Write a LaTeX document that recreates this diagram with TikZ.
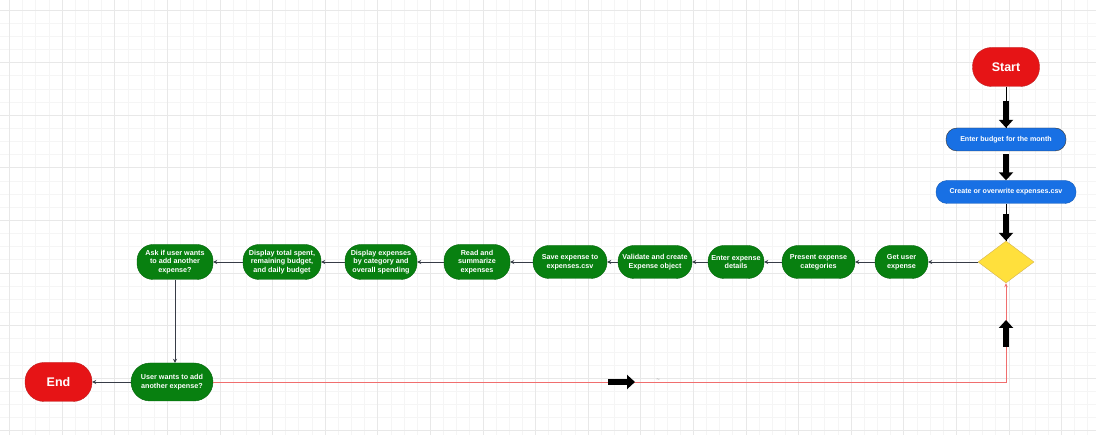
\documentclass[tikz,border=0pt]{standalone}
\usepackage{fontspec}
\setmainfont{Liberation Sans}
\usepackage{xcolor}
\usepackage{tikz}
\usetikzlibrary{arrows.meta,shapes.geometric}

\definecolor{termred}{RGB}{230,20,22}
\definecolor{termedge}{RGB}{190,30,30}
\definecolor{inblue}{RGB}{24,112,228}
\definecolor{stepgreen}{RGB}{8,128,16}
\definecolor{decyellow}{RGB}{255,224,60}
\definecolor{decedge}{RGB}{214,182,86}
\definecolor{linkgray}{RGB}{55,60,70}
\definecolor{looppink}{RGB}{240,110,110}

\tikzset{
  terminal/.style={draw=termedge, fill=termred, text=white, rounded corners=19pt,
    minimum width=67pt, minimum height=39pt, inner sep=0pt,
    font=\bfseries\fontsize{12.5}{14}\selectfont},
  inputbox/.style={fill=inblue, text=white, rounded corners=11pt,
    minimum height=23pt, inner sep=0pt, font=\bfseries\fontsize{7.1}{8}\selectfont},
  stepbox/.style={fill=stepgreen, draw=stepgreen!80!black, text=white, rounded corners=16pt,
    minimum height=33pt, inner sep=0pt, align=center,
    font=\bfseries\fontsize{7.2}{8.8}\selectfont},
  decision/.style={diamond, fill=decyellow, draw=decedge, inner sep=0pt,
    minimum width=56pt, minimum height=42pt},
  link/.style={draw=linkgray, line width=0.9pt, -{Stealth[length=4pt,width=4pt]}},
  loopline/.style={draw=looppink, line width=0.9pt, -{Stealth[length=4pt,width=3.5pt]}},
  bigarrow/.style={draw=black, line width=6.5pt, -{Triangle[length=8pt,width=14pt]}},
  gridminor/.style={draw=black!4, line width=0.7pt},
  gridmajor/.style={draw=black!9, line width=0.8pt}
}

\begin{document}
\begin{tikzpicture}[x=1pt, y=-1pt]
\fill[white] (0,0) rectangle (1096,435);
\clip (0,0) rectangle (1096,435);

% background grid
\foreach \i in {0,...,84} \draw[gridminor] ({-3.65+\i*13.15},0) -- ++(0,435);
\foreach \i in {0,...,34} \draw[gridminor] (0,{-3.15+\i*13.15}) -- ++(1096,0);
\foreach \i in {0,...,21} \draw[gridmajor] ({9.5+\i*52.6},0) -- ++(0,435);
\foreach \i in {0,...,8} \draw[gridmajor] (0,{10+\i*52.6}) -- ++(1096,0);

% top column
\node[terminal] (start) at (1006,67) {Start};
\node[inputbox, draw=black!80, minimum width=120pt] (budget) at (1006,139.5) {Enter budget for the month};
\node[inputbox, draw=inblue!80!black, minimum width=140pt] (csvfile) at (1006,192) {Create or overwrite expenses.csv};
\node[decision] (check) at (1006,262) {};

% main row
\node[stepbox, minimum width=53pt] (getexp) at (901.5,262) {Get user\\expense};
\node[stepbox, minimum width=73pt] (present) at (818.5,262) {Present expense\\categories};
\node[stepbox, minimum width=56pt] (details) at (736,262) {Enter expense\\details};
\node[stepbox, minimum width=74pt] (validate) at (655,262) {Validate and create\\Expense object};
\node[stepbox, minimum width=74pt] (save) at (570,262) {Save expense to\\expenses.csv};
\node[stepbox, minimum width=66pt, minimum height=35pt] (summary) at (477,262) {Read and\\summarize\\expenses};
\node[stepbox, minimum width=72pt, minimum height=35pt] (bycat) at (381,262) {Display expenses\\by category and\\overall spending};
\node[stepbox, minimum width=78pt, minimum height=35pt] (totals) at (282,262) {Display total spent,\\remaining budget,\\and daily budget};
\node[stepbox, minimum width=76pt, minimum height=35pt] (ask) at (175,262) {Ask if user wants\\to add another\\expense?};

% bottom row
\node[stepbox, minimum width=82pt, minimum height=38pt, rounded corners=19pt] (again) at (172,382) {User wants to add\\another expense?};
\node[terminal] (finish) at (58.5,382) {End};
\coordinate (corner) at (1006,382);

% connectors
\draw[draw=black, line width=0.9pt] (start) -- (budget);
\draw[bigarrow] ([yshift=-14pt]start.south) -- (budget.north);
\draw[bigarrow] ([yshift=-3pt]budget.south) -- (csvfile.north);
\draw[draw=black, line width=0.9pt] (csvfile) -- (check);
\draw[bigarrow] ([yshift=-10pt]csvfile.south) -- (check.north);

\draw[link] (check) -- (getexp);
\draw[link] (getexp) -- (present);
\draw[link] (present) -- (details);
\draw[link] (details) -- (validate);
\draw[link] (validate) -- (save);
\draw[link] (save) -- (summary);
\draw[link] (summary) -- (bycat);
\draw[link] (bycat) -- (totals);
\draw[link] (totals) -- (ask);
\draw[link] (ask.south) -- (ask.south |- again.north);
\draw[link] (again) -- (finish);

\draw[loopline] (again.east) -- (corner) -- (check.south);
\draw[bigarrow] (608,382) -- (635,382);
\draw[bigarrow] (1006,347) -- (1006,320);
\node[text=black!45, font=\fontsize{6}{6}\selectfont, inner sep=0pt] (mark) at (658,380.5) {\textasciitilde};
\end{tikzpicture}
\end{document}
